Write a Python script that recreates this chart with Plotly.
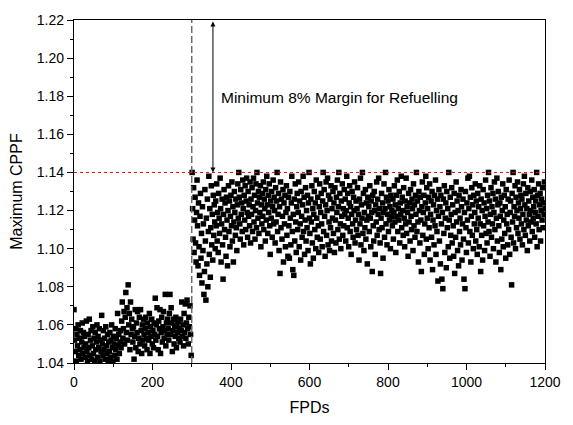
import numpy as np
import plotly.graph_objects as go

# Maximum CPPF values (FPD 0 - 300)
cppf_0_300 = [
    1.068,1.052,1.046,1.058,1.041,1.055,1.049,1.060,1.044,1.053,1.047,1.057,1.042,1.051,1.061,1.045,1.056,1.048,1.054,1.043,
    1.050,1.062,1.046,1.041,1.055,1.048,1.063,1.044,1.052,1.057,1.042,1.049,1.059,1.045,1.053,1.041,1.056,1.047,1.051,1.060,
    1.043,1.054,1.048,1.058,1.041,1.052,1.046,1.065,1.050,1.044,1.057,1.047,1.053,1.042,1.059,1.049,1.045,1.055,1.041,1.051,
    1.046,1.056,1.043,1.052,1.060,1.048,1.041,1.054,1.050,1.044,1.058,1.047,1.053,1.042,1.066,1.049,1.055,1.045,1.051,1.057,
    1.048,1.062,1.072,1.053,1.058,1.067,1.050,1.064,1.077,1.056,1.069,1.052,1.081,1.060,1.066,1.047,1.072,1.055,1.063,1.058,
    1.051,1.059,1.042,1.054,1.068,1.048,1.061,1.056,1.067,1.046,1.053,1.064,1.050,1.068,1.057,1.045,1.060,1.052,1.063,1.055,
    1.049,1.058,1.064,1.053,1.047,1.061,1.056,1.052,1.066,1.045,1.059,1.054,1.063,1.050,1.057,1.048,1.061,1.055,1.074,1.052,
    1.060,1.069,1.054,1.047,1.062,1.058,1.068,1.045,1.056,1.064,1.051,1.059,1.067,1.053,1.057,1.076,1.049,1.061,1.055,1.063,
    1.058,1.052,1.066,1.076,1.055,1.069,1.061,1.046,1.057,1.063,1.050,1.059,1.054,1.064,1.048,1.060,1.056,1.062,1.053,1.058,
    1.051,1.063,1.057,1.072,1.054,1.060,1.049,1.066,1.056,1.071,1.053,1.061,1.073,1.058,1.050,1.064,1.059,1.070,1.055,1.044,
]

# FPD 301 - 600
cppf_300_600 = [
    1.140,1.121,1.105,1.132,1.098,1.115,1.127,1.103,1.093,1.119,1.136,1.112,1.091,1.124,1.101,1.086,1.117,1.129,1.095,1.108,1.082,1.122,1.099,1.113,
    1.076,1.088,1.131,1.104,1.073,1.116,1.092,1.126,1.080,1.109,1.138,1.097,1.121,1.085,1.111,1.133,1.102,1.118,1.094,1.128,1.107,1.123,1.114,1.100,
    1.125,1.112,1.134,1.104,1.119,1.098,1.129,1.116,1.108,1.137,1.121,1.093,1.113,1.126,1.102,1.084,1.118,1.131,1.110,1.124,1.106,1.096,1.127,1.115,
    1.091,1.120,1.133,1.109,1.125,1.101,1.117,1.128,1.112,1.135,1.104,1.122,1.093,1.114,1.130,1.119,1.107,1.126,1.111,1.099,1.123,1.134,1.116,1.140,
    1.127,1.113,1.105,1.131,1.118,1.124,1.109,1.136,1.121,1.102,1.128,1.115,1.133,1.110,1.125,1.137,1.119,1.106,1.130,1.117,1.123,1.112,1.135,1.103,
    1.126,1.118,1.132,1.109,1.122,1.137,1.114,1.128,1.105,1.120,1.134,1.111,1.140,1.124,1.116,1.130,1.108,1.127,1.119,1.133,1.101,1.123,1.113,1.129,
    1.117,1.135,1.110,1.126,1.121,1.104,1.131,1.115,1.138,1.123,1.108,1.128,1.119,1.134,1.112,1.097,1.125,1.116,1.130,1.106,1.122,1.136,1.113,1.127,
    1.120,1.103,1.132,1.114,1.125,1.140,1.109,1.118,1.129,1.099,1.122,1.087,1.135,1.111,1.126,1.105,1.117,1.131,1.093,1.124,1.113,1.128,1.101,1.119,
    1.133,1.107,1.121,1.096,1.127,1.112,1.095,1.130,1.116,1.102,1.124,1.138,1.109,1.089,1.118,1.086,1.126,1.104,1.134,1.114,1.098,1.122,1.129,1.110,
    1.119,1.135,1.101,1.125,1.113,1.094,1.130,1.117,1.106,1.123,1.138,1.109,1.127,1.097,1.115,1.132,1.104,1.120,1.111,1.128,1.099,1.124,1.140,1.116,
]

# FPD 601 - 900
cppf_600_900 = [
    1.108,1.092,1.126,1.114,1.133,1.103,1.121,1.095,1.118,1.130,1.110,1.124,1.100,1.136,1.116,1.106,1.127,1.112,1.098,1.122,1.134,1.105,1.119,1.129,
    1.113,1.101,1.125,1.140,1.109,1.131,1.117,1.096,1.123,1.135,1.107,1.120,1.137,1.102,1.128,1.114,1.099,1.126,1.111,1.133,1.104,1.121,1.116,1.130,
    1.108,1.124,1.098,1.132,1.115,1.103,1.127,1.119,1.136,1.110,1.122,1.140,1.105,1.129,1.113,1.100,1.125,1.117,1.134,1.107,1.121,1.112,1.131,1.118,
    1.126,1.104,1.120,1.138,1.111,1.129,1.116,1.101,1.124,1.133,1.109,1.122,1.097,1.118,1.130,1.113,1.106,1.127,1.120,1.135,1.103,1.115,1.125,1.110,
    1.121,1.132,1.107,1.118,1.094,1.126,1.113,1.137,1.102,1.123,1.116,1.140,1.108,1.129,1.099,1.119,1.111,1.131,1.105,1.124,1.115,1.092,1.127,1.117,
    1.122,1.109,1.133,1.116,1.101,1.125,1.119,1.088,1.128,1.112,1.104,1.130,1.120,1.097,1.123,1.114,1.135,1.107,1.126,1.118,1.137,1.110,1.121,1.103,
    1.087,1.116,1.129,1.111,1.124,1.095,1.119,1.134,1.106,1.121,1.140,1.113,1.127,1.102,1.118,1.125,1.109,1.131,1.115,1.122,1.100,1.128,1.117,1.120,
    1.112,1.126,1.105,1.119,1.133,1.114,1.123,1.098,1.128,1.117,1.136,1.109,1.121,1.115,1.130,1.103,1.124,1.118,1.138,1.111,1.127,1.120,1.107,1.132,
    1.116,1.101,1.125,1.113,1.137,1.108,1.122,1.119,1.096,1.129,1.114,1.124,1.104,1.131,1.117,1.110,1.126,1.121,1.099,1.134,1.112,1.123,1.106,1.128,
    1.118,1.140,1.109,1.125,1.114,1.093,1.130,1.120,1.103,1.127,1.115,1.088,1.122,1.135,1.107,1.119,1.128,1.097,1.113,1.124,1.138,1.105,1.132,1.116,
]

# FPD 901 - 1200
cppf_900_1200 = [
    1.121,1.100,1.127,1.111,1.134,1.094,1.118,1.125,1.106,1.130,1.089,1.115,1.123,1.102,1.128,1.112,1.136,1.097,1.120,1.109,1.126,1.083,1.117,1.131,
    1.104,1.122,1.092,1.128,1.113,1.084,1.119,1.079,1.126,1.108,1.133,1.098,1.116,1.124,1.090,1.130,1.111,1.121,1.101,1.140,1.115,1.095,1.127,1.107,
    1.118,1.132,1.103,1.123,1.112,1.096,1.129,1.087,1.119,1.106,1.135,1.114,1.125,1.099,1.120,1.091,1.128,1.109,1.116,1.102,1.131,1.122,1.094,1.113,
    1.126,1.105,1.084,1.119,1.079,1.130,1.111,1.098,1.124,1.115,1.137,1.103,1.121,1.138,1.109,1.127,1.093,1.117,1.132,1.107,1.123,1.100,1.128,1.113,
    1.119,1.134,1.104,1.125,1.110,1.097,1.129,1.116,1.122,1.101,1.133,1.113,1.088,1.126,1.107,1.120,1.094,1.131,1.112,1.124,1.099,1.117,1.136,1.108,
    1.121,1.103,1.128,1.114,1.140,1.109,1.125,1.096,1.118,1.132,1.106,1.122,1.113,1.129,1.100,1.119,1.135,1.110,1.126,1.093,1.116,1.137,1.104,1.123,
    1.130,1.112,1.098,1.124,1.117,1.089,1.127,1.105,1.120,1.134,1.101,1.115,1.128,1.108,1.122,1.095,1.131,1.113,1.118,1.102,1.126,1.110,1.136,1.097,
    1.119,1.125,1.106,1.081,1.129,1.114,1.140,1.103,1.122,1.117,1.133,1.100,1.127,1.111,1.120,1.135,1.108,1.124,1.116,1.131,1.105,1.121,1.128,1.113,
    1.126,1.102,1.118,1.134,1.110,1.138,1.123,1.107,1.129,1.115,1.121,1.099,1.132,1.112,1.125,1.118,1.104,1.130,1.120,1.114,1.136,1.109,1.127,1.116,
    1.122,1.131,1.106,1.119,1.125,1.113,1.140,1.101,1.128,1.117,1.134,1.110,1.123,1.129,1.104,1.120,1.126,1.115,1.132,1.111,1.124,1.118,1.135,1.121,
]

segments = [
    (0, 298.5, cppf_0_300),
    (301, 600, cppf_300_600),
    (601, 900, cppf_600_900),
    (901, 1200, cppf_900_1200),
]

limit_cppf = 1.14
refuel_fpd = 300
arrow_fpd = 354
x_title = "FPDs"
y_title = "Maximum CPPF"
note_text = "Minimum 8% Margin for Refuelling"

fpd = []
cppf = []
for a, b, vals in segments:
    fpd.extend(np.linspace(a, b, len(vals)).tolist())
    cppf.extend(vals)

FONT = "Liberation Sans, Arial"

fig = go.Figure()
fig.add_trace(go.Scatter(
    x=fpd, y=cppf, mode="markers",
    marker=dict(symbol="square", size=5.5, color="black", line=dict(width=0)),
    showlegend=False,
))

# red dotted limit line
fig.add_trace(go.Scatter(
    x=[0, 1200], y=[limit_cppf, limit_cppf], mode="lines",
    line=dict(color="red", width=1, dash="dot"), showlegend=False,
))
# vertical dashed line at refuelling start
fig.add_trace(go.Scatter(
    x=[refuel_fpd, refuel_fpd], y=[1.04, 1.22], mode="lines",
    line=dict(color="#666666", width=1.4, dash="7px,3px"), showlegend=False,
))

fig.add_annotation(
    x=arrow_fpd, y=limit_cppf, ax=arrow_fpd, ay=1.22,
    xref="x", yref="y", axref="x", ayref="y",
    text="", showarrow=True, arrowside="end+start",
    arrowhead=2, arrowsize=1, arrowwidth=1, arrowcolor="black",
)
fig.add_annotation(
    x=370, y=1.1795, xref="x", yref="y", text=note_text,
    showarrow=False, xanchor="left", yanchor="middle",
    font=dict(family=FONT, size=15.5, color="black"),
)

axis_common = dict(
    showgrid=False, zeroline=False, showline=True, linecolor="black",
    linewidth=1.3, mirror=True, ticks="outside", tickcolor="black",
    tickwidth=1.1, ticklen=6,
    tickfont=dict(family=FONT, size=14, color="black"),
)

fig.update_xaxes(
    range=[0, 1200], tick0=0, dtick=200,
    minor=dict(dtick=100, ticks="outside", ticklen=3, tickcolor="black", tickwidth=1.1),
    title=dict(text=x_title, font=dict(family=FONT, size=16, color="black"), standoff=12),
    **axis_common,
)
fig.update_yaxes(
    range=[1.04, 1.22], tick0=1.04, dtick=0.02, tickformat=".2f",
    minor=dict(dtick=0.01, ticks="outside", ticklen=3, tickcolor="black", tickwidth=1.1),
    title=dict(text=y_title, font=dict(family=FONT, size=16, color="black"), standoff=10),
    **axis_common,
)

fig.update_layout(
    width=573, height=425,
    margin=dict(l=74, r=18, t=13, b=56),
    plot_bgcolor="white", paper_bgcolor="white",
    showlegend=False,
)

fig.write_html("out.html")
